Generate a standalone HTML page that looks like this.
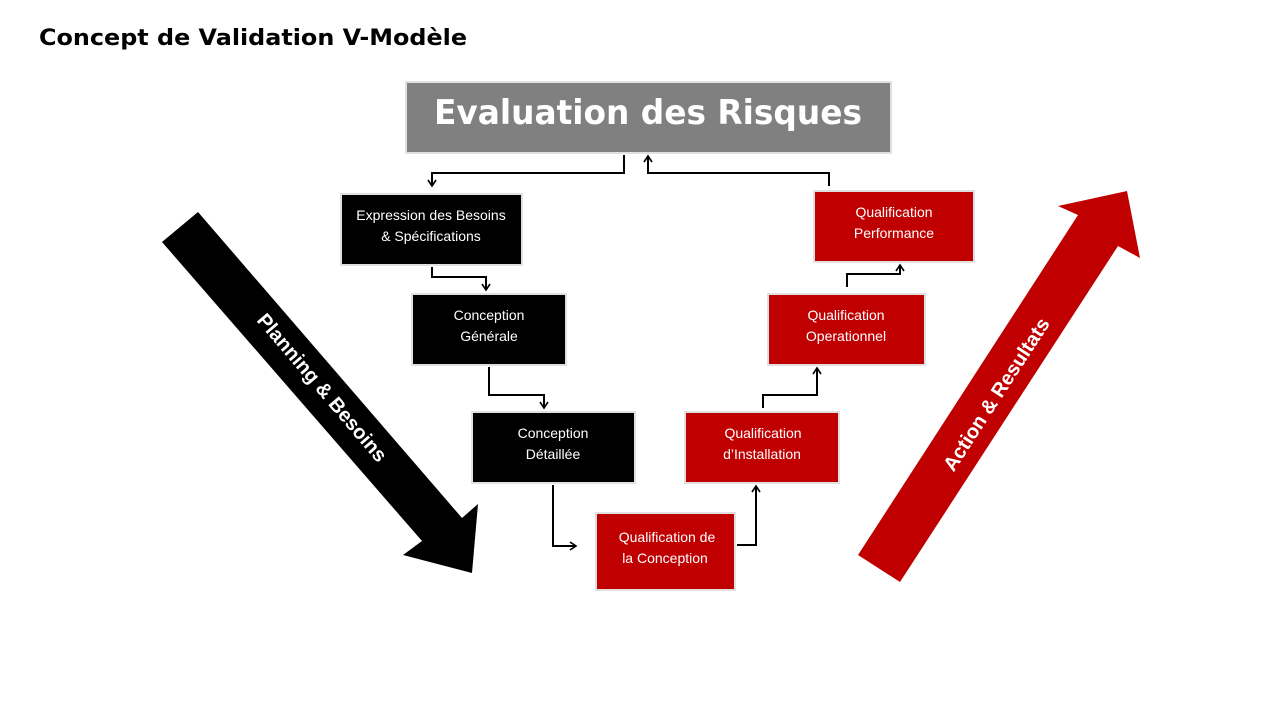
<!DOCTYPE html>
<html><head><meta charset="utf-8"><style>
html,body{margin:0;padding:0;background:#fff;width:1280px;height:720px;overflow:hidden}
text{font-family:"Liberation Sans",sans-serif}
</style></head><body>
<svg width="1280" height="720" viewBox="0 0 1280 720" xmlns="http://www.w3.org/2000/svg">
<defs>
<marker id="a" markerWidth="10" markerHeight="10" refX="7" refY="5" orient="auto" markerUnits="userSpaceOnUse">
<path d="M1,1 L7,5 L1,9" fill="none" stroke="#000" stroke-width="1.6"/>
</marker>
</defs>
<text x="39" y="45" font-family="DejaVu Sans" font-weight="bold" font-size="22" textLength="428" lengthAdjust="spacingAndGlyphs" style="font-family:'DejaVu Sans',sans-serif">Concept de Validation V-Modèle</text>

<rect x="406" y="82" width="485" height="71" fill="#808080" stroke="#e0e0e0" stroke-width="2"/>
<text x="648" y="124" text-anchor="middle" fill="#fff" font-weight="bold" font-size="34" style="font-family:'DejaVu Sans',sans-serif" textLength="428" lengthAdjust="spacingAndGlyphs">Evaluation des Risques</text>

<g stroke="#e0e0e0" stroke-width="2">
<rect x="341" y="194" width="181" height="71" fill="#000"/>
<rect x="412" y="294" width="154" height="71" fill="#000"/>
<rect x="472" y="412" width="163" height="71" fill="#000"/>
<rect x="596" y="513" width="139" height="77" fill="#c00000"/>
<rect x="685" y="412" width="154" height="71" fill="#c00000"/>
<rect x="768" y="294" width="157" height="71" fill="#c00000"/>
<rect x="814" y="191" width="160" height="71" fill="#c00000"/>
</g>
<g fill="#fff" font-size="14" text-anchor="middle">
<text x="431" y="220">Expression des Besoins</text><text x="431" y="241">&amp; Spécifications</text>
<text x="489" y="320">Conception</text><text x="489" y="341">Générale</text>
<text x="553" y="438">Conception</text><text x="553" y="459">Détaillée</text>
<text x="667" y="542">Qualification de</text><text x="665" y="563">la Conception</text>
<text x="763" y="438">Qualification</text><text x="762" y="459">d’Installation</text>
<text x="846" y="320">Qualification</text><text x="846" y="341">Operationnel</text>
<text x="894" y="217">Qualification</text><text x="894" y="238">Performance</text>
</g>

<g fill="none" stroke="#000" stroke-width="2" marker-end="url(#a)">
<polyline points="624,155 624,173 432,173 432,186"/>
<polyline points="432,267 432,277 486,277 486,290"/>
<polyline points="489,367 489,395 544,395 544,408"/>
<polyline points="553,485 553,546 576,546"/>
<polyline points="737,545 756,545 756,486"/>
<polyline points="763,408 763,395 817,395 817,368"/>
<polyline points="847,287 847,274 900,274 900,265"/>
<polyline points="829,186 829,173 648,173 648,156"/>
</g>

<polygon points="162,242 198,212 462,518 478,504 472,573 403,555 422,541" fill="#000"/>
<text transform="translate(317,392) rotate(49.5)" text-anchor="middle" fill="#fff" font-weight="bold" font-size="20">Planning &amp; Besoins</text>

<polygon points="858,555 1078,215 1058,206 1127,191 1140,258 1118,246 900,582" fill="#c00000"/>
<text transform="translate(1002,398) rotate(-57)" text-anchor="middle" fill="#fff" font-weight="bold" font-size="20">Action &amp; Resultats</text>
</svg>
</body></html>
